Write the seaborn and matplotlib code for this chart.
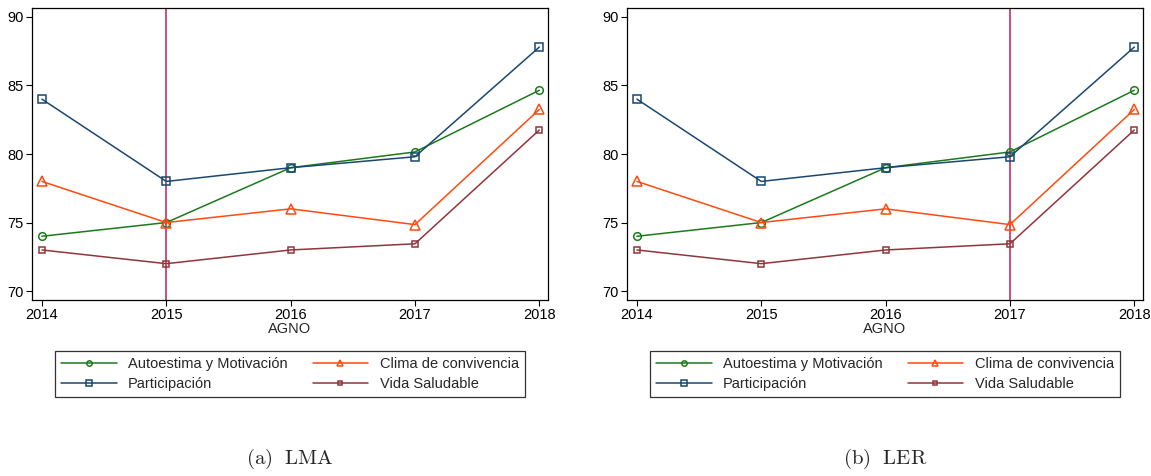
import seaborn as sns
import matplotlib.pyplot as plt
import numpy as np
import pandas as pd

years = [2014, 2015, 2016, 2017, 2018]
autoestima = [74.0, 75.0, 79.0, 80.15, 84.65]
participacion = [84.0, 78.0, 79.0, 79.8, 87.8]
clima = [78.0, 75.0, 76.0, 74.85, 83.25]
vida = [73.0, 72.0, 73.0, 73.45, 81.75]

panels = ['LMA', 'LER']
panel_tags = ['(a)', '(b)']
cut_years = [2015, 2017]

series = [
    ('Autoestima y Motivación', autoestima, '#1c7a1c', 'o', 5.5),
    ('Participación', participacion, '#1a476f', 's', 6.2),
    ('Clima de convivencia', clima, '#ff4a10', '^', 7),
    ('Vida Saludable', vida, '#90353b', 's', 4.2),
]

sns.set_style('white')
plt.rcParams['font.family'] = ['Liberation Sans', 'DejaVu Sans']
plt.rcParams['mathtext.fontset'] = 'cm'

fig = plt.figure(figsize=(11.51, 4.76), dpi=100)
lefts = [32 / 1151, 627 / 1151]
w = 516 / 1151
b = 1 - 300 / 476
h = 292 / 476

for i, panel in enumerate(panels):
    ax = fig.add_axes([lefts[i], b, w, h])
    for name, vals, col, mk, ms in series:
        df = pd.DataFrame({'AGNO': years, 'val': vals})
        sns.lineplot(data=df, x='AGNO', y='val', ax=ax, color=col, marker=mk,
                     markersize=ms, markerfacecolor='none', markeredgecolor=col,
                     markeredgewidth=1.1, linewidth=1.1, label=name)
    ax.axvline(cut_years[i], color='#c3325e', linewidth=1.2, zorder=0)
    ax.set_xlim(2013.92, 2018.07)
    ax.set_ylim(69.35, 90.65)
    ax.set_xticks(years)
    ax.set_yticks([70, 75, 80, 85, 90])
    ax.tick_params(axis='both', direction='out', length=4, width=0.8, labelsize=10.5,
                   bottom=True, left=True, pad=2, colors='black')
    for s in ax.spines.values():
        s.set_color('black')
        s.set_linewidth(0.9)
    ax.set_xlabel('AGNO', fontsize=10.5, labelpad=0)
    ax.set_ylabel('')
    hd, lb = ax.get_legend_handles_labels()
    ax.get_legend().remove()
    cx = lefts[i] + w / 2
    leg = fig.legend(hd, lb, loc='upper center', bbox_to_anchor=(cx, 1 - 344 / 476),
                     ncol=2, fontsize=10.5, frameon=True, fancybox=False,
                     edgecolor='black', handlelength=3.8, columnspacing=1.7,
                     borderpad=0.4, labelspacing=0.4, markerscale=0.7)
    leg.get_frame().set_linewidth(0.9)
    fig.text(cx, 0.035, r'$\mathrm{' + panel_tags[i] + r'\ \ ' + panel + '}$',
             ha='center', va='center', fontsize=15)

fig.savefig('out.png', dpi=100)
